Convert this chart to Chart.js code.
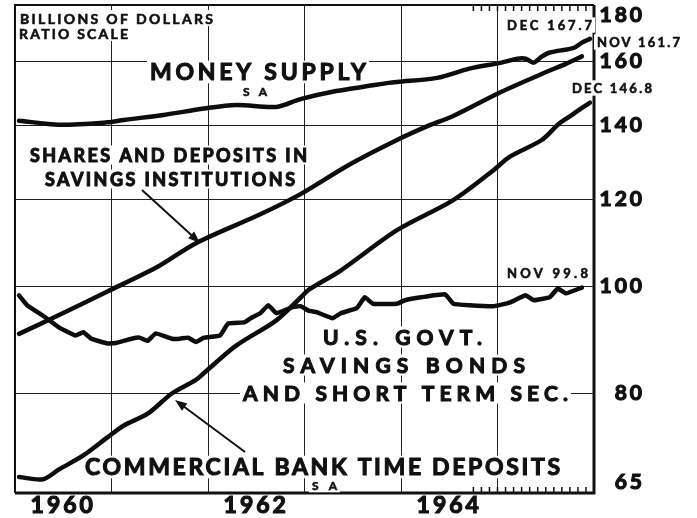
<!DOCTYPE html>
<html>
<head>
<meta charset="utf-8">
<script src="https://cdn.jsdelivr.net/npm/chart.js@4.4.0/dist/chart.umd.min.js"></script>
<style>
  html, body { margin: 0; padding: 0; background: #fff; }
  #wrap { width: 697px; height: 518px; position: relative; }
</style>
</head>
<body>
<div id="wrap"><canvas id="chart"></canvas></div>
<script>
// billions of dollars, ratio scale (monthly, plotted mid-month)
const moneyMonths = ['1960-01','1960-06','1960-12','1961-02','1961-07','1961-12','1962-04','1962-09','1962-12',
  '1963-04','1963-11','1963-12','1964-05','1964-09','1965-01','1965-03','1965-04','1965-05','1965-06',
  '1965-07','1965-10','1965-11','1965-12'];
const moneySupply = [141.4, 140.2, 140.9, 141.6, 143.1, 145.0, 146.1, 145.5, 147.9,
  150.2, 153.0, 153.3, 154.6, 157.6, 159.6, 160.9, 160.9, 159.6, 161.6,
  163.0, 164.6, 166.4, 167.7];

const savingsMonths = ['1960-01','1960-05','1960-12','1961-06','1961-11','1962-07','1962-12','1963-06',
  '1963-12','1964-04','1964-07','1965-01','1965-07','1965-09','1965-11'];
const savingsInst = [90.6, 93.5, 99.0, 104.0, 109.5, 116.3, 121.3, 128.9,
  135.8, 140.0, 142.8, 150.2, 157.0, 159.2, 161.7];

const bankMonths = ['1960-01','1960-04','1960-06','1960-09','1960-12','1961-02','1961-05','1961-08','1961-11',
  '1961-12','1962-04','1962-09','1962-12','1963-01','1963-05','1963-12','1964-07','1964-12','1965-02',
  '1965-06','1965-08','1965-09','1965-10','1965-11','1965-12'];
const bankTime = [67.2, 66.9, 68.3, 70.3, 73.0, 74.8, 76.7, 80.0, 82.3,
  83.5, 88.4, 93.2, 97.7, 99.3, 103.4, 112.5, 119.8, 127.5, 131.1,
  135.8, 140.2, 141.9, 143.5, 145.2, 146.8];

const govtMonths = ['1960-01','1960-02','1960-04','1960-06','1960-08','1960-09','1960-10','1960-12',
  '1961-01','1961-03','1961-04','1961-05','1961-06','1961-08','1961-09','1961-10','1961-11','1961-12',
  '1962-02','1962-03','1962-05','1962-06','1962-07','1962-08','1962-09','1962-11','1962-12',
  '1963-01','1963-02','1963-04','1963-05','1963-07','1963-08','1963-09','1963-12',
  '1964-01','1964-03','1964-06','1964-07','1964-09','1964-12',
  '1965-02','1965-04','1965-05','1965-07','1965-08','1965-09','1965-11'];
const govtSec = [98.2, 96.2, 94.1, 91.8, 90.3, 90.9, 89.7, 88.8,
  88.9, 89.7, 89.9, 89.3, 90.7, 89.7, 89.7, 89.9, 89.1, 89.9,
  90.3, 92.6, 92.8, 93.8, 94.6, 96.2, 94.6, 95.8, 96.0,
  95.1, 94.8, 93.6, 94.6, 95.6, 97.8, 96.5, 96.5,
  97.2, 97.8, 98.4, 96.5, 96.2, 96.0,
  96.7, 98.2, 97.2, 97.8, 99.6, 98.6, 99.8];

const yTicks = [65, 80, 100, 120, 140, 160, 180];
const yearLabels = ['1960', '1962', '1964'];
const tickFrom = '1964-10', tickTo = '1965-12'; // monthly marks along top and bottom edge

const FONT = 'Lato';

function midMonth(s) {
  const [y, m] = s.split('-').map(Number);
  return y + (m - 0.5) / 12;
}

function series(label, months, values, tension) {
  return {
    label: label,
    data: months.map((m, i) => ({ x: midMonth(m), y: values[i] })),
    borderColor: '#0d0d0d',
    borderWidth: 4.5,
    pointRadius: 0,
    tension: tension,
    borderCapStyle: 'round',
    borderJoinStyle: 'round',
    fill: false
  };
}

// fit a label between two x positions by stretching the letter spacing
function fitText(ctx, text, left, right, cy, size) {
  ctx.font = 'bold ' + size + 'px ' + FONT;
  ctx.letterSpacing = '0px';
  const w0 = ctx.measureText(text).width;
  const sp = (right - left - w0) / (text.length - 1);
  const cap = size * 0.72;
  ctx.fillStyle = '#fff';
  ctx.fillRect(left - 3, cy - cap / 2 - 3, right - left + 6, cap + 6);
  ctx.letterSpacing = sp + 'px';
  ctx.fillStyle = '#111';
  ctx.strokeStyle = '#111';
  ctx.lineWidth = size > 16 ? 1.1 : 0.6;
  ctx.textAlign = 'left';
  ctx.textBaseline = 'middle';
  ctx.fillText(text, left, cy + 1);
  ctx.strokeText(text, left, cy + 1);
}

function arrow(ctx, x1, y1, x2, y2) {
  const a = Math.atan2(y2 - y1, x2 - x1);
  ctx.beginPath();
  ctx.moveTo(x1, y1);
  ctx.lineTo(x2 - 8 * Math.cos(a), y2 - 8 * Math.sin(a));
  ctx.stroke();
  ctx.beginPath();
  ctx.moveTo(x2, y2);
  ctx.lineTo(x2 - 12 * Math.cos(a) + 4.5 * Math.sin(a), y2 - 12 * Math.sin(a) - 4.5 * Math.cos(a));
  ctx.lineTo(x2 - 12 * Math.cos(a) - 4.5 * Math.sin(a), y2 - 12 * Math.sin(a) + 4.5 * Math.cos(a));
  ctx.closePath();
  ctx.fill();
}

const framePlugin = {
  id: 'frame',
  beforeLayout(chart) { chart.ctx.letterSpacing = '3px'; },
  beforeDraw(chart) { chart.ctx.letterSpacing = '3px'; },
  beforeDatasetsDraw(chart) {
    const ctx = chart.ctx;
    const a = chart.chartArea;
    const xs = chart.scales.x;
    ctx.save();
    ctx.strokeStyle = '#111';
    ctx.fillStyle = '#111';

    // frame
    ctx.lineWidth = 2;
    ctx.beginPath();
    ctx.moveTo(a.left, a.bottom); ctx.lineTo(a.left, a.top); ctx.lineTo(a.right, a.top);
    ctx.stroke();
    ctx.lineWidth = 3;
    ctx.beginPath();
    ctx.moveTo(a.right, a.top); ctx.lineTo(a.right, a.bottom); ctx.lineTo(a.left, a.bottom);
    ctx.stroke();

    // monthly tick marks
    ctx.lineWidth = 1.5;
    let [ty, tm] = tickFrom.split('-').map(Number);
    const [ey, em] = tickTo.split('-').map(Number);
    while (ty < ey || (ty === ey && tm <= em)) {
      const px = xs.getPixelForValue(ty + (tm - 1) / 12);
      ctx.beginPath();
      ctx.moveTo(px, a.bottom); ctx.lineTo(px, a.bottom - 6);
      ctx.moveTo(px, a.top); ctx.lineTo(px, a.top + 6);
      ctx.stroke();
      tm++; if (tm > 12) { tm = 1; ty++; }
    }

    // labels
    fitText(ctx, 'BILLIONS OF DOLLARS', 20, 213, 18, 14);
    fitText(ctx, 'RATIO SCALE', 19, 128, 33, 14);
    fitText(ctx, 'MONEY SUPPLY', 150, 366, 72, 23);
    fitText(ctx, 'S A', 243, 267, 91, 12);
    fitText(ctx, 'SHARES AND DEPOSITS IN', 30, 307, 155, 18);
    fitText(ctx, 'SAVINGS INSTITUTIONS', 45, 295, 179, 18);
    fitText(ctx, 'U.S. GOVT.', 323, 482, 337, 21);
    fitText(ctx, 'SAVINGS BONDS', 283, 525, 365, 21);
    fitText(ctx, 'AND SHORT TERM SEC.', 243, 568, 393, 21);
    fitText(ctx, 'COMMERCIAL BANK TIME DEPOSITS', 85, 560, 467, 23);
    fitText(ctx, 'S A', 312, 337, 485, 12);
    fitText(ctx, 'DEC 167.7', 507, 592, 25, 13);
    fitText(ctx, 'NOV 161.7', 597, 680, 42, 13);
    fitText(ctx, 'DEC 146.8', 572, 652, 88, 13);
    fitText(ctx, 'NOV 99.8', 507, 588, 273, 13);

    // pointers
    ctx.lineWidth = 2;
    ctx.strokeStyle = '#111';
    ctx.fillStyle = '#111';
    arrow(ctx, 142, 190, 200, 243);
    arrow(ctx, 245, 452, 175, 400);
    ctx.restore();
  }
};

new Chart(document.getElementById('chart'), {
  type: 'line',
  data: {
    datasets: [
      series('Money supply', moneyMonths, moneySupply, 0.3),
      series('Shares and deposits in savings institutions', savingsMonths, savingsInst, 0.3),
      series('Commercial bank time deposits', bankMonths, bankTime, 0.3),
      series('U.S. Govt. savings bonds and short term sec.', govtMonths, govtSec, 0.1)
    ]
  },
  options: {
    responsive: true,
    maintainAspectRatio: false,
    animation: false,
    layout: { padding: { top: 5, left: 15, right: 52, bottom: 0 } },
    plugins: { legend: { display: false }, tooltip: { enabled: false } },
    scales: {
      x: {
        type: 'linear',
        min: 1960,
        max: 1966,
        afterBuildTicks: s => {
          s.ticks = [];
          for (let v = 1960; v <= 1966; v += 0.5) s.ticks.push({ value: v });
        },
        afterFit: s => { s.height = 25; s.paddingLeft = 0; s.paddingRight = 0; },
        grid: {
          color: c => (c.tick && Number.isInteger(c.tick.value)) ? '#222' : 'rgba(0,0,0,0)',
          lineWidth: 1,
          drawTicks: false
        },
        border: { display: false },
        ticks: {
          autoSkip: false,
          maxRotation: 0,
          padding: 1,
          color: '#111',
          textStrokeColor: '#111',
          textStrokeWidth: 1.2,
          font: { family: FONT, weight: 'bold', size: 23, lineHeight: 1 },
          callback: v => {
            const y = String(Math.floor(v));
            return (v % 1 !== 0 && yearLabels.includes(y)) ? y : '';
          }
        }
      },
      y: {
        type: 'logarithmic',
        position: 'right',
        min: 65,
        max: 180,
        afterBuildTicks: s => { s.ticks = yTicks.map(v => ({ value: v })); },
        afterFit: s => { s.width = 51; s.paddingTop = 0; s.paddingBottom = 0; },
        grid: {
          color: c => (c.tick && (c.tick.value === 65 || c.tick.value === 180)) ? 'rgba(0,0,0,0)' : '#222',
          lineWidth: 1,
          drawTicks: false
        },
        border: { display: false },
        ticks: {
          padding: 4,
          crossAlign: 'far',
          color: '#111',
          textStrokeColor: '#111',
          textStrokeWidth: 1.2,
          font: { family: FONT, weight: 'bold', size: 21, lineHeight: 1 },
          callback: v => {
            if (v === 180) return ['', '180'];
            if (v === 65) return ['65', ''];
            return String(v);
          }
        }
      }
    }
  },
  plugins: [framePlugin]
});
</script>
</body>
</html>
